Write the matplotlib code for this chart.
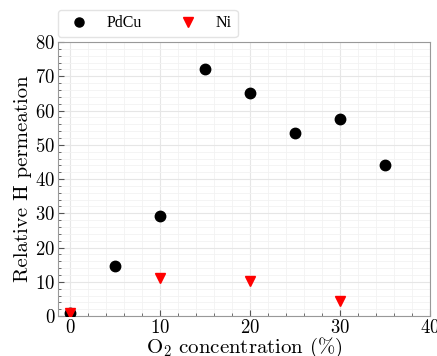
import matplotlib
matplotlib.use("Agg")
import matplotlib.pyplot as plt
from matplotlib.ticker import MultipleLocator

plt.rcParams["font.family"] = "serif"
plt.rcParams["font.serif"] = ["cmr10"]
plt.rcParams["mathtext.fontset"] = "cm"
plt.rcParams["axes.formatter.use_mathtext"] = True

# data
pdcu_x = [0, 5, 10, 15, 20, 25, 30, 35]
pdcu_y = [1, 14.5, 29.3, 72.2, 65, 53.5, 57.5, 44]
ni_x = [0, 10, 20, 30]
ni_y = [1, 11, 10.3, 4.5]

fig = plt.figure(figsize=(4.37, 3.56), dpi=100)
ax = fig.add_axes([0.1327, 0.112, 0.851, 0.770])

ax.plot(pdcu_x, pdcu_y, "o", color="black", markersize=7.5, label="PdCu", zorder=3)
ax.plot(ni_x, ni_y, "v", color="red", markersize=7.5, label="Ni", zorder=3)

ax.set_xlim(-1.33, 40)
ax.set_ylim(0, 80)
ax.xaxis.set_major_locator(MultipleLocator(10))
ax.xaxis.set_minor_locator(MultipleLocator(2))
ax.yaxis.set_major_locator(MultipleLocator(10))
ax.yaxis.set_minor_locator(MultipleLocator(2))
ax.grid(which="major", color="#e6e6e6", linewidth=0.8)
ax.grid(which="minor", color="#f2f2f2", linewidth=0.6)
ax.set_axisbelow(True)

for s in ax.spines.values():
    s.set_color("#999999")
ax.tick_params(which="both", direction="in", color="#555555", labelsize=13.5, pad=2)
ax.tick_params(which="major", length=4)
ax.tick_params(which="minor", length=2)

ax.set_xlabel(r"O$_2$ concentration (%)", fontsize=15, labelpad=-1)
ax.set_ylabel("Relative H permeation", fontsize=15, labelpad=2)

leg = ax.legend(loc="lower left", bbox_to_anchor=(-0.0134, 1.0), ncol=2,
                prop={"family": "Liberation Serif", "size": 11.5},
                frameon=True, edgecolor="#dddddd", columnspacing=1.9, handletextpad=0.81,
                borderpad=0.35, borderaxespad=0.31, handlelength=1.9, markerscale=0.87)

fig.savefig("out.png", dpi=100)
